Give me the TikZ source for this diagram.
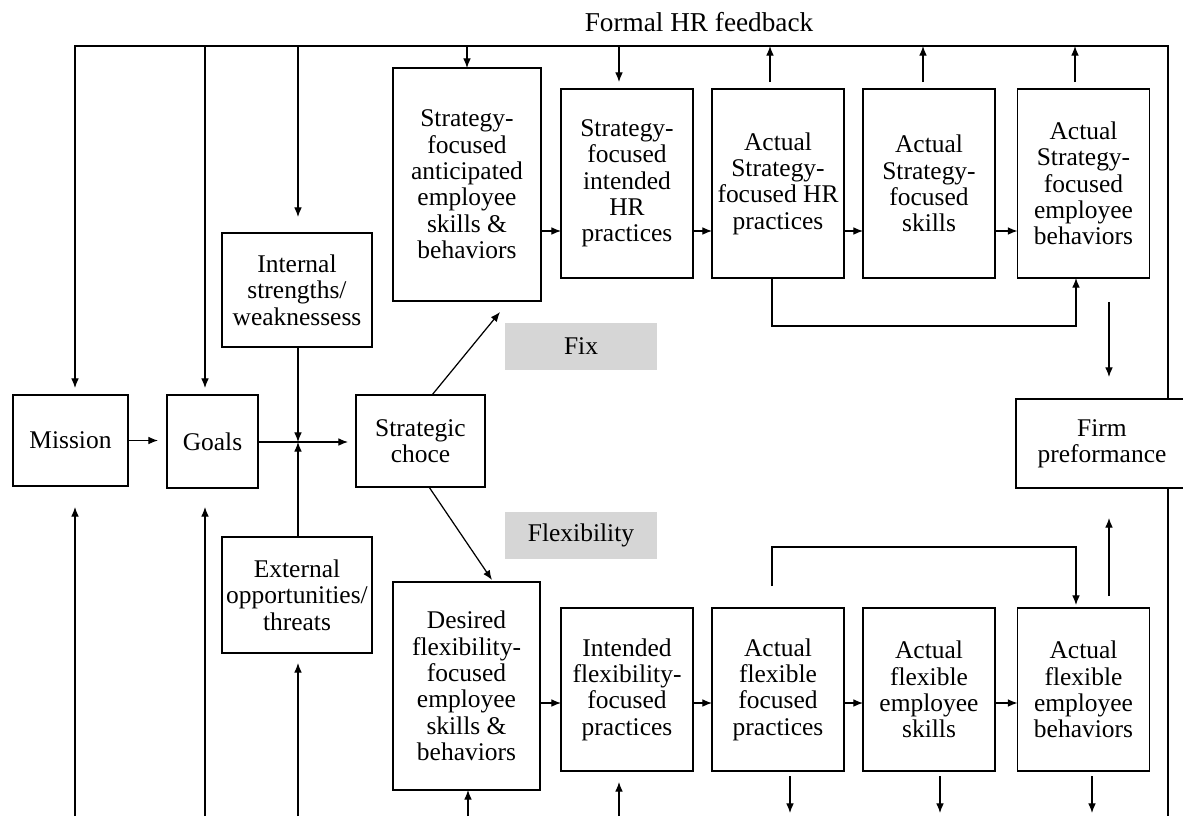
\documentclass[tikz,border=0pt]{standalone}
\usepackage{fontspec}
\setmainfont{Liberation Serif}
\usetikzlibrary{arrows.meta}

\definecolor{boxgrey}{RGB}{214,214,214}

\tikzset{
		hrmodel/.style={
			x=0.02cm, y=-0.02cm,
			line width=0.7pt,
			>={Latex[length=5.5pt,width=4.4pt]},
			every node/.style={align=center, inner sep=0pt, outer sep=0pt}
		},
		box/.style={draw, line width=0.8pt},
		sbox/.style={box, minimum width=2.64cm, minimum height=3.78cm},
		fbox/.style={box, minimum width=2.64cm, minimum height=3.26cm},
		greybox/.style={fill=boxgrey, minimum width=3.04cm, minimum height=0.94cm},
		fontrm/.style={font=\fontsize{14.5}{15}\selectfont}
	}

\begin{document}
\begin{tikzpicture}[hrmodel, fontrm]
				\useasboundingbox (0,0) rectangle (1183,816);
				\clip (0,0) rectangle (1183,816);
				\node[box, minimum width=2.3cm, minimum height=1.82cm] (mission) at (70.5,440.5) {Mission};
				\node[box, minimum width=1.82cm, minimum height=1.86cm] (goals) at (212.5,441.5) {Goals};
				\node[box, minimum width=3cm, minimum height=2.28cm] (internal) at (297,290) {Internal\\strengths/\\weaknessess};
				\node[box, minimum width=3cm, minimum height=2.32cm] (external) at (297,595) {External\\opportunities/\\threats};
				\node[box, minimum width=2.58cm, minimum height=1.84cm] (choice) at (420.5,441) {Strategic\\choce};
				\node[greybox] (fix) at (581,346.5) {Fix};
				\node[greybox] (flex) at (581,535.5) {Flexibility};
				\node[box, minimum width=2.96cm, minimum height=4.66cm] (anticip) at (467,184.5) {Strategy-\\focused\\anticipated\\employee\\skills \&\\behaviors};
				\node[sbox] (sb2) at (627,183.5) {Strategy-\\focused\\intended\\HR\\practices};
				\node[sbox] (sb3) at (778,183.5) {Actual\\Strategy-\\focused HR\\practices};
				\node[sbox] (sb4) at (929,183.5) {Actual\\Strategy-\\focused\\skills};
				\node[sbox] (sb5) at (1083.5,183.5) {Actual\\Strategy-\\focused\\employee\\behaviors};
				\node[box, minimum width=2.94cm, minimum height=4.16cm] (desired) at (466.5,686) {Desired\\flexibility-\\focused\\employee\\skills \&\\behaviors};
				\node[fbox] (fb2) at (627,689.5) {Intended\\flexibility-\\focused\\practices};
				\node[fbox] (fb3) at (778,689.5) {Actual\\flexible\\focused\\practices};
				\node[fbox] (fb4) at (929,689.5) {Actual\\flexible\\employee\\skills};
				\node[fbox] (fb5) at (1083.5,689.5) {Actual\\flexible\\employee\\behaviors};
				\node[box, minimum width=3.44cm, minimum height=1.78cm] (firm) at (1102,443.5) {Firm\\preformance};
				\node[font=\fontsize{15.5}{16}\selectfont] (fblabel) at (699,22) {Formal HR feedback};

				\coordinate (fbL) at (75,46);
				\coordinate (fbR) at (1168,46);
				\coordinate (tGoals) at (205,46);
				\coordinate (tInt) at (298,46);
				\coordinate (tAnt) at (467,46);
				\coordinate (tSb2) at (619,46);
				\coordinate (tSb3) at (770,46);
				\coordinate (tSb4) at (923,46);
				\coordinate (tSb5) at (1075,46);
				\coordinate (bMis) at (75,816);
				\coordinate (bGoals) at (205,816);
				\coordinate (bExt) at (298,816);
				\coordinate (bDes) at (468,816);
				\coordinate (bFb2) at (619,816);
				\coordinate (bFb3) at (790,816);
				\coordinate (bFb4) at (940,816);
				\coordinate (bFb5) at (1092,816);
				\coordinate (bR) at (1168,816);
				\coordinate (jn) at (298,442);
				\coordinate (toprow) at (0,231);
				\coordinate (botrow) at (0,703);
				\coordinate (fixtip) at (500,312);
				\coordinate (flextip) at (492,580);
				\coordinate (brA) at (772,326);
				\coordinate (brB) at (1076,326);
				\coordinate (brC) at (772,547);
				\coordinate (brD) at (1076,547);
				\coordinate (perf) at (1109,0);

				\draw[->, shorten >=0.14cm] (firm.north -| fbR) -- (fbR) -- (fbL) -- (mission.north -| fbL);
				\draw[->, shorten >=0.14cm] (tGoals) -- (goals.north -| tGoals);
				\draw[->, shorten >=0.32cm] (tInt) -- (internal.north -| tInt);
				\draw[->] (tAnt) -- (anticip.north -| tAnt);
				\draw[->, shorten >=0.14cm] (tSb2) -- (sb2.north -| tSb2);
				\draw[->, shorten <=0.14cm] (sb3.north -| tSb3) -- (tSb3);
				\draw[->, shorten <=0.14cm] (sb4.north -| tSb4) -- (tSb4);
				\draw[->, shorten <=0.14cm] (sb5.north -| tSb5) -- (tSb5);

				\draw[->, shorten >=0.18cm] (mission.east) -- (goals.west |- mission.east);
				\draw[->, shorten >=0.16cm] (goals.east |- jn) -- (choice.west |- jn);
				\draw[->] (internal.south -| jn) -- (jn);
				\draw[->] (external.north -| jn) -- (jn);
				\draw[->] (choice.north -| 432,0) -- (fixtip);
				\draw[->] (choice.south -| 429,0) -- (flextip);

				\draw[->] (anticip.east |- toprow) -- (sb2.west |- toprow);
				\draw[->] (sb2.east |- toprow) -- (sb3.west |- toprow);
				\draw[->] (sb3.east |- toprow) -- (sb4.west |- toprow);
				\draw[->] (sb4.east |- toprow) -- (sb5.west |- toprow);
				\draw[->] (desired.east |- botrow) -- (fb2.west |- botrow);
				\draw[->] (fb2.east |- botrow) -- (fb3.west |- botrow);
				\draw[->] (fb3.east |- botrow) -- (fb4.west |- botrow);
				\draw[->] (fb4.east |- botrow) -- (fb5.west |- botrow);

				\draw[->] (sb3.south -| brA) -- (brA) -- (brB) -- (sb5.south -| brB);
				\draw[->, shorten <=0.44cm, shorten >=0.06cm] (fb3.north -| brC) -- (brC) -- (brD) -- (fb5.north -| brD);

				\draw[->, shorten <=0.48cm, shorten >=0.44cm] (sb5.south -| perf) -- (firm.north -| perf);
				\draw[->, shorten <=0.24cm, shorten >=0.6cm] (fb5.north -| perf) -- (firm.south -| perf);

				\draw[->, shorten >=0.42cm] (bMis) -- (mission.south -| bMis);
				\draw[->, shorten >=0.38cm] (bGoals) -- (goals.south -| bGoals);
				\draw[->, shorten >=0.2cm] (bExt) -- (external.south -| bExt);
				\draw[->] (bDes) -- (desired.south -| bDes);
				\draw[->, shorten >=0.22cm] (bFb2) -- (fb2.south -| bFb2);
				\draw[->, shorten <=0.1cm, shorten >=0.06cm] (fb3.south -| bFb3) -- (bFb3);
				\draw[->, shorten <=0.1cm, shorten >=0.06cm] (fb4.south -| bFb4) -- (bFb4);
				\draw[->, shorten <=0.1cm, shorten >=0.06cm] (fb5.south -| bFb5) -- (bFb5);
				\draw (firm.south -| bR) -- (bR);
			\end{tikzpicture}
\end{document}
